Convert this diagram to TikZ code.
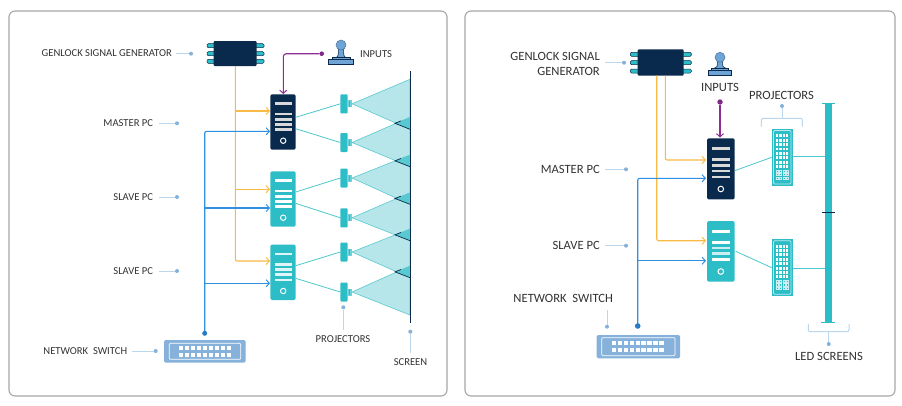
\documentclass[tikz,border=0pt]{standalone}
\usepackage{fontspec}
\setmainfont{Carlito}
\usetikzlibrary{arrows.meta}
\definecolor{navy}{HTML}{0A2A4D}
\definecolor{teal1}{HTML}{2DBDC7}
\definecolor{cone}{HTML}{B6E6E9}
\definecolor{overlap}{HTML}{58C9D0}
\definecolor{lblue}{HTML}{85B1DA}
\definecolor{iconb}{HTML}{6FA5D6}
\definecolor{pale}{HTML}{BBD7EE}
\definecolor{orangeL}{HTML}{F9BB45}
\definecolor{blueL}{HTML}{2F90E2}
\definecolor{purpleL}{HTML}{8E2C96}
\definecolor{txt}{HTML}{333333}
\tikzset{
 x=1pt,y=-1pt,
 panel/.style={draw=black!35,line width=1.1pt,rounded corners=6pt,fill=white},
 lab/.style={text=txt,inner sep=0pt,font=\fontsize{10.6}{13}\selectfont,anchor=east},
 labb/.style={text=txt,inner sep=0pt,font=\fontsize{12.6}{15}\selectfont},
 leader/.style={draw=pale,line width=1pt},
 ldot/.style={circle,fill=lblue,inner sep=0pt,minimum size=4pt},
 orangew/.style={draw=orangeL,line width=1.1pt,rounded corners=2pt},
 bluew/.style={draw=blueL,line width=1.1pt,rounded corners=2pt},
 purplew/.style={draw=purpleL,line width=1.1pt,rounded corners=3pt},
 tip/.style={-{Straight Barb[length=3.2pt,width=7pt,line width=1pt]}},
 wire/.style={draw=teal1!85,line width=0.8pt},
 conesty/.style={fill=cone,draw=teal1!80,line width=0.6pt},
}
\newcommand{\pinset}[5]{% xl xr y1 y2 y3
 \foreach \yy in {#3,#4,#5}{
  \fill[teal1,draw=navy,line width=0.5pt,rounded corners=1.2pt] (#1,\yy-2) rectangle (#2,\yy+2);
 }
}
\newcommand{\bars}[5]{% xl, xr, top, colour, offsets
 \foreach \o in {#5}{
  \fill[#4] (#1,#3+\o-1.3) rectangle (#2,#3+\o+1.3);
 }
}
\newcommand{\inputicon}[5]{% cx, heady, basetopy, basebot, halfw
 \fill[iconb,draw=navy,line width=0.6pt] (#1-2.6,#2+3) .. controls (#1-2.4,#3-3) and (#1-3,#3-2) .. (#1-6,#3-1.6)
   -- (#1+6,#3-1.6) .. controls (#1+3,#3-2) and (#1+2.4,#3-3) .. (#1+2.6,#2+3) -- cycle;
 \fill[iconb,draw=iconb!60!navy,line width=0.5pt] (#1,#2) circle (5);
 \fill[iconb,draw=navy,line width=0.6pt] (#1-#5+3,#3-1.6) rectangle (#1+#5-3,#3);
 \fill[iconb,draw=navy,line width=0.7pt] (#1-#5,#3) rectangle (#1+#5,#4);
}
\newcommand{\lensproj}[2]{% x left, cy
 \fill[teal1,rounded corners=1pt] (#1,#2-9.5) rectangle (#1+7.4,#2+9.5);
 \fill[teal1!70] (#1+7.4,#2-3.5) rectangle (#1+11.5,#2+3.5);
 \draw[teal1,line width=0.5pt] (#1+9,#2-3) -- (#1+9,#2+3);
}
\newcommand{\ledpanel}[2]{% xl, top
 \fill[teal1] (#1,#2) rectangle (#1+21,#2+57);
 \draw[white!70!teal1,line width=0.7pt,rounded corners=1pt] (#1+1.8,#2+1.8) rectangle (#1+19.2,#2+55.2);
 \foreach \c in {0,1,2,3}{
  \foreach \r in {0,...,7}{ \fill[white] (#1+4.4+\c*3.35,#2+5.6+\r*4.4) rectangle ++(2.2,2.9); }
  \foreach \r in {0,1,2}{ \draw[white!75!teal1,line width=0.4pt] (#1+4.5+\c*3.35,#2+41+\r*3.5) rectangle ++(2,2.2); }
 }
}
\newcommand{\switchbox}[8]{% xl yt xr yb  inner-xl inner-yt inner-xr inner-yb
 \fill[lblue,rounded corners=1.5pt] (#1,#2) rectangle (#3,#4);
 \draw[white,line width=0.7pt,rounded corners=1pt] (#5,#6) rectangle (#7,#8);
}
\begin{document}
\begin{tikzpicture}
\useasboundingbox (0,0) rectangle (902,405);
\fill[white] (0,0) rectangle (902,405);
\draw[panel] (9,11) rectangle (447,396);
\draw[panel] (465,11) rectangle (895,396);

%%%%%%%% LEFT
\foreach \cy/\t/\b in {103.8/79.3/129.3,142.5/117.3/166.7,178/155/204.3,217.8/192.7/240.7,252/229/277.7,292/266/315}{
 \filldraw[conesty] (352,\cy) -- (410,\t) -- (410,\b) -- cycle;
}
\foreach \t/\b in {117.3/129.3,155/166.7,192.7/204.3,229/240.7,266/277.7}{
 \pgfmathsetmacro{\m}{(\t+\b)/2}
 \fill[overlap] (395,\m) -- (410,\t) -- (410,\b) -- cycle;
 \draw[navy,line width=0.7pt] (410,\b) -- (395,\m) -- (401,\m-2.4);
}
\coordinate (scrT) at (410,71);
\coordinate (scrB) at (410,323);
\draw[navy,line width=1pt] (scrT) -- (scrB);

\pinset{207}{216}{45.7}{53.7}{61.3}
\pinset{254}{264}{45.7}{53.7}{61.3}
\node[fill=navy,rounded corners=1pt,minimum width=43pt,minimum height=25pt,inner sep=0pt] (chipL) at (235.2,53.5) {};

\node[fill=navy,rounded corners=1.5pt,minimum width=25.4pt,minimum height=55.4pt,inner sep=0pt] (m1) at (283,122) {};
\node[fill=teal1,rounded corners=1.5pt,minimum width=25.4pt,minimum height=55.4pt,inner sep=0pt] (s1) at (283,199) {};
\node[fill=teal1,rounded corners=1.5pt,minimum width=25.4pt,minimum height=55.4pt,inner sep=0pt] (s2) at (283,272.3) {};
\bars{275}{291.7}{94.3}{black!15}{9.4,19.7,25,30,35.4}
\bars{275}{291.7}{171.3}{white}{9.4,19.7,25,30,35.4}
\bars{275}{291.7}{244.7}{white!85!teal1}{9.4,19.7,25,30,35.4}
\foreach \c in {140.7,217.7,291}{\draw[white,line width=1pt] (283.2,\c) circle (2.7);}

\switchbox{164}{340}{245.7}{362.7}{169.3}{343.3}{240.7}{359.3}
\foreach \c in {0,...,8}{\foreach \r in {0,1}{\fill[white] (179+\c*5.95,346+\r*6.6) rectangle ++(4.2,4.2);}}
\node[minimum width=81.7pt,minimum height=22.7pt,inner sep=0pt] (swL) at (204.85,351.35) {};

\foreach \cy/\n in {103.8/1,142.5/2,178/3,217.8/4,252/5,292/6}{
 \lensproj{340.3}{\cy}
 \coordinate (p\n) at (340.3,\cy);
}
\draw[wire] (295.7,117.3) -- (p1);
\draw[wire] (295.7,128.7) -- (p2);
\draw[wire] (295.7,192) -- (p3);
\draw[wire] (295.7,203.3) -- (p4);
\draw[wire] (295.7,265.7) -- (p5);
\draw[wire] (295.7,278.3) -- (p6);

\coordinate (bdL) at (204.7,333.3);
\draw[orangew,tip] (235.3,66) |- (270,261);
\draw[orangew,tip] (235.3,111) -- (270,111);
\draw[orangew,tip] (235.3,189.3) -- (270,189.3);
\draw[bluew,tip] (bdL) |- (270,131.3);
\draw[bluew,tip] (204.7,208) -- (270,208);
\draw[bluew,tip] (204.7,283.3) -- (270,283.3);
\node[circle,fill=blueL!80!navy,inner sep=0pt,minimum size=5pt] (dotL) at (bdL) {};
\inputicon{341}{45}{59.3}{64.3}{12.2}
\node[circle,fill=purpleL!90!black,inner sep=0pt,minimum size=4.6pt] (pdL) at (321.7,53.7) {};
\coordinate (pmL) at (283.3,94);
\draw[purplew,tip] (pdL) -| (pmL);
\node[lab,anchor=west] (inL) at (360,54) {INPUTS};

\node[lab] (a1) at (172,53.5) {GENLOCK SIGNAL GENERATOR};
\node[ldot] (a1d) at (191,53.7) {}; \draw[leader] (176,53.7) -- (a1d);
\node[lab] (a2) at (153.3,123.5) {MASTER PC};
\node[ldot] (a2d) at (177,123.3) {}; \draw[leader] (159,123.3) -- (a2d);
\node[lab] (a3) at (153.3,197.3) {SLAVE PC};
\node[ldot] (a3d) at (177,197) {}; \draw[leader] (159,197) -- (a3d);
\node[lab] (a4) at (153.3,271.3) {SLAVE PC};
\node[ldot] (a4d) at (177,271) {}; \draw[leader] (159,271) -- (a4d);
\node[lab] (a5) at (127.3,351.3) {NETWORK\ \ SWITCH};
\node[ldot] (a5d) at (155.7,351) {}; \draw[leader] (132.3,351) -- (a5d);
\node[lab,anchor=center] (a6) at (343,339) {PROJECTORS};
\node[ldot] (a6d) at (343.3,307.3) {}; \draw[leader] (a6d) -- (343.3,330);
\node[lab,anchor=center] (a7) at (410.5,362) {SCREEN};
\node[ldot] (a7d) at (410.3,331.7) {}; \draw[leader] (a7d) -- (410.3,353);

%%%%%%%% RIGHT
\pinset{630.3}{640}{54.3}{62.7}{71}
\pinset{681}{691.3}{54.3}{62.7}{71}
\node[fill=navy,rounded corners=1pt,minimum width=46pt,minimum height=26.4pt,inner sep=0pt] (chipR) at (660.7,62.5) {};

\node[fill=navy,rounded corners=1.5pt,minimum width=27.7pt,minimum height=61pt,inner sep=0pt] (m2) at (720.85,168.8) {};
\node[fill=teal1,rounded corners=1.5pt,minimum width=27.7pt,minimum height=60.7pt,inner sep=0pt] (s3) at (720.85,251.35) {};
\bars{711.7}{730}{138.3}{black!15}{10.4,21.4,27,32.7,38.7}
\bars{711.7}{730}{221}{white}{10.4,21.4}
\bars{711.7}{730}{221}{white!75!teal1}{27,32.7}
\bars{711.7}{730}{221}{white}{38.7}
\draw[white,line width=1pt] (720.8,189) circle (2.8);
\draw[white,line width=1pt] (720.8,271.5) circle (2.8);

\ledpanel{771.7}{128.7}
\ledpanel{771.7}{239}

\fill[teal1] (824.7,103.3) rectangle (832.3,322.3);
\draw[teal1,line width=0.9pt] (822.3,103.5) -- (835,103.5);
\draw[teal1,line width=0.9pt] (821.3,322.3) -- (834.7,322.3);
\draw[navy,line width=0.9pt] (821.7,212.7) -- (835,212.7);
\coordinate (scr1) at (824.7,156);
\coordinate (scr2) at (824.7,268.3);
\draw[wire] (734.7,170.7) -- (771.7,157.3);
\draw[wire] (735.7,251.3) -- (771.7,267.7);
\draw[wire] (793.3,156) -- (scr1);
\draw[wire] (793.3,268.3) -- (scr2);

\switchbox{596.7}{335}{680}{358.3}{601.7}{337.7}{675}{355.7}
\foreach \c in {0,...,8}{\foreach \r in {0,1}{\fill[white] (611.7+\c*5.95,341.2+\r*6.6) rectangle ++(4.2,4.2);}}

\coordinate (bdR) at (637.7,326);
\draw[orangew,tip] (656.7,75.7) |- (706,240.7);
\draw[orangew,tip] (665.3,75.7) |- (706,160);
\draw[bluew,tip] (bdR) |- (706,178.3);
\draw[bluew,tip] (637.7,260.7) -- (706,260.7);
\node[circle,fill=blueL!80!navy,inner sep=0pt,minimum size=5.6pt] (dotR) at (bdR) {};

\inputicon{720}{57.3}{70}{75.3}{11.7}
\node[labb,anchor=center] (inR) at (720,87) {INPUTS};
\node[circle,fill=purpleL!90!black,inner sep=0pt,minimum size=5.4pt] (pdR) at (720,102) {};
\coordinate (pmR) at (720,137.5);
\draw[purplew,tip] (pdR) -- (pmR);

\node[labb,anchor=east,align=right] (b1) at (600,64) {GENLOCK SIGNAL\\GENERATOR};
\node[ldot] (b1d) at (624,62.7) {}; \draw[leader] (605.3,62.7) -- (b1d);
\node[labb,anchor=east] (b2) at (600,169.9) {MASTER PC};
\node[ldot] (b2d) at (626,169.3) {}; \draw[leader] (605,169.3) -- (b2d);
\node[labb,anchor=east] (b3) at (600,245.9) {SLAVE PC};
\node[ldot] (b3d) at (626,245.7) {}; \draw[leader] (605,245.7) -- (b3d);
\node[labb,anchor=center] (b4) at (563.2,298.5) {NETWORK\ \ SWITCH};
\node[ldot] (b4d) at (607,326.7) {}; \draw[leader] (607,310) -- (b4d);
\node[labb,anchor=center] (b5) at (781.5,95) {PROJECTORS};
\node[ldot] (b5d) at (782,106) {};
\draw[leader] (b5d) -- (782,118.3);
\draw[leader,rounded corners=2pt] (761.3,126.7) |- (802.3,118.3) -- (802.3,126.7);
\node[labb,anchor=center] (b6) at (829,356.5) {LED SCREENS};
\node[ldot] (b6d) at (828.7,344) {};
\draw[leader] (b6d) -- (828.7,331.7);
\draw[leader,rounded corners=2pt] (808.3,324) |- (849,331.7) -- (849,324);
\end{tikzpicture}
\end{document}
